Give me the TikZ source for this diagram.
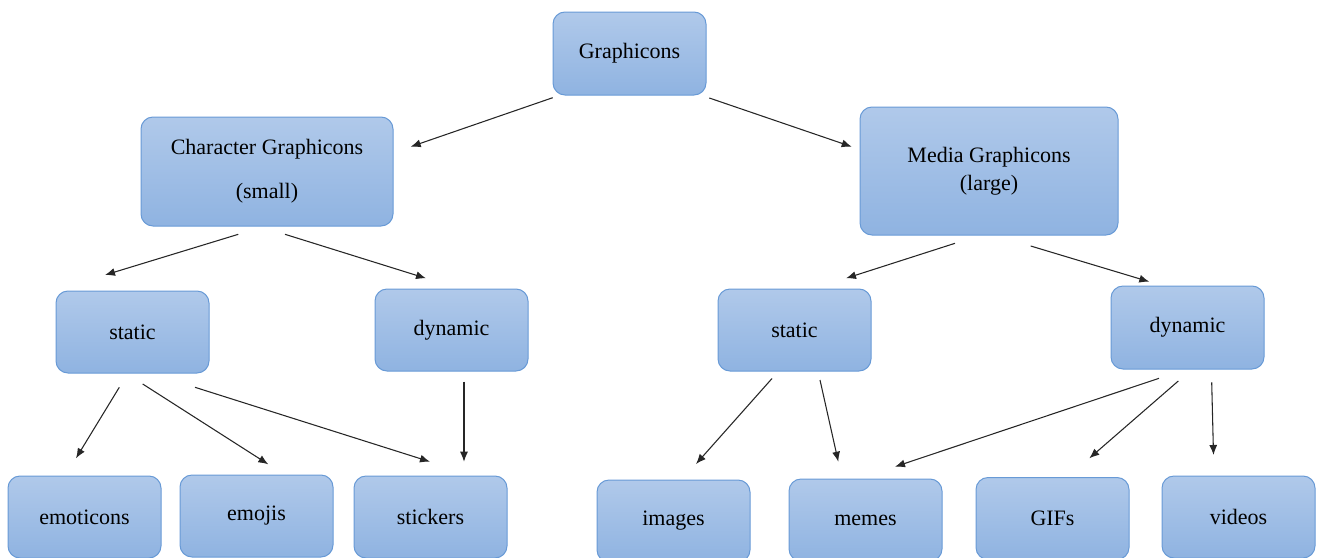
\documentclass[tikz,border=0pt]{standalone}
\usepackage{fontspec}
\setmainfont{Liberation Serif}
\usetikzlibrary{arrows.meta}
\definecolor{boxtop}{RGB}{176,201,234}
\definecolor{boxbot}{RGB}{143,179,225}
\definecolor{boxline}{RGB}{104,154,214}
\begin{document}
\begin{tikzpicture}%
	[x=0.75pt, y=-0.75pt,
	box/.style={draw=boxline, line width=0.75pt, rounded corners=9pt,
		top color=boxtop, bottom color=boxbot, inner sep=0pt, align=center,
		minimum width=114.75pt, minimum height=61.5pt,
		font=\fontsize{16.5}{21}\selectfont},
	bigbox/.style={box, minimum width=189pt, minimum height=81.75pt},
	arr/.style={-{Latex[length=7.5pt,width=6pt]}, line width=0.8pt, black!85}]
%
\useasboundingbox (0,0) rectangle (1317,557);
%
%% top level
\node[box, minimum height=62.25pt] (top) at (629.5,53.5) {Graphicons};
%
%% second level
\node[bigbox] (char) at (267,171.5) {Character Graphicons\\[12pt](small)};
\node[bigbox, minimum width=193.5pt, minimum height=96pt] (media) at (989,171) {Media Graphicons\\(large)};
%
%% third level
\node[box] (statL) at (132.5,332) {static};
\node[box] (dynL) at (451.5,330) {dynamic};
\node[box] (statR) at (794.5,330) {static};
\node[box, minimum height=62.25pt] (dynR) at (1187.5,327.5) {dynamic};
%
%% leaves
\node[box] (emoticons) at (84.5,517) {emoticons};
\node[box] (emojis) at (256.5,516) {emojis};
\node[box] (stickers) at (430.5,517) {stickers};
\node[box] (images) at (673.5,521) {images};
\node[box] (memes) at (865.5,520) {memes};
\node[box] (gifs) at (1052.5,518.5) {GIFs};
\node[box] (videos) at (1238.5,517) {videos};
%
%% connectors
\draw[arr] ([shift={(-76.8,44.2)}]top.center) -- ([shift={(143.7,-24.8)}]char.center);
\draw[arr] ([shift={(79.8,44.5)}]top.center) -- ([shift={(-137.3,-24.3)}]media.center);
%
\draw[arr] ([shift={(-28.7,62.8)}]char.center) -- ([shift={(-27.5,-57)}]statL.center);
\draw[arr] ([shift={(18,62.8)}]char.center) -- ([shift={(-25.5,-51.7)}]dynL.center);
\draw[arr] ([shift={(-34,72.3)}]media.center) -- ([shift={(51.5,-51.7)}]statR.center);
\draw[arr] ([shift={(41.7,75)}]media.center) -- ([shift={(-38.2,-45.8)}]dynR.center);
%
\draw[arr] ([shift={(-13.2,55.3)}]statL.center) -- ([shift={(-8.5,-58.7)}]emoticons.center);
\draw[arr] ([shift={(10.2,52)}]statL.center) -- ([shift={(11.8,-51.7)}]emojis.center);
\draw[arr] ([shift={(62.5,55.3)}]statL.center) -- ([shift={(-0.5,-55.3)}]stickers.center);
\draw[arr] ([shift={(12.5,51.7)}]dynL.center) -- ([shift={(33.5,-55.3)}]stickers.center);
%
\draw[arr] ([shift={(-22.5,48.5)}]statR.center) -- ([shift={(22.5,-57)}]images.center);
\draw[arr] ([shift={(25.5,50)}]statR.center) -- ([shift={(-27.2,-58.3)}]memes.center);
\draw[arr] ([shift={(-28.5,50.8)}]dynR.center) -- ([shift={(29.5,-53.3)}]memes.center);
\draw[arr] ([shift={(-9.2,53.5)}]dynR.center) -- ([shift={(36.8,-60.2)}]gifs.center);
\draw[arr] ([shift={(24.2,54.8)}]dynR.center) -- ([shift={(-25,-62)}]videos.center);
%%
\end{tikzpicture}
\end{document}
